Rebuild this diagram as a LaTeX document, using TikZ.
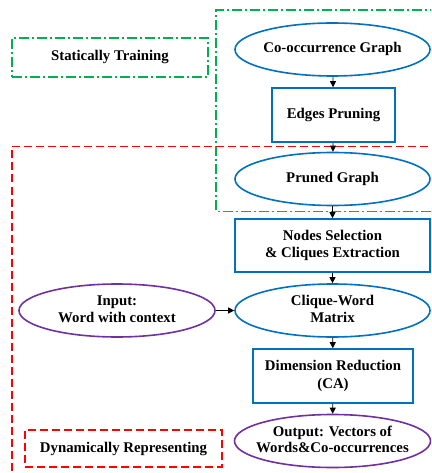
\documentclass[tikz,border=0pt]{standalone}
\usepackage{fontspec}
\setmainfont{Liberation Serif}
\usetikzlibrary{shapes.geometric,arrows.meta}
\definecolor{oblue}{RGB}{0,112,192}
\definecolor{ogreen}{RGB}{0,176,80}
\definecolor{opurple}{RGB}{112,48,160}
\definecolor{ored}{RGB}{255,0,0}
\newcommand{\zwtext}[1]{\makebox[0pt]{\begin{tabular}{@{}c@{}}#1\end{tabular}}}
\tikzset{
  txt/.style={font=\fontsize{14.8}{17.5}\selectfont\bfseries, align=center, inner sep=0pt},
  bell/.style={txt, ellipse, draw=oblue, line width=1.6pt, minimum width=195pt, minimum height=53pt},
  pell/.style={txt, ellipse, draw=opurple, line width=1.6pt, minimum width=196pt, minimum height=53pt},
  bbox/.style={txt, rectangle, draw=oblue, line width=1.6pt},
  gframe/.style={draw=ogreen, line width=1.5pt, dash pattern=on 10pt off 3pt on 2pt off 3pt},
  rframe/.style={draw=ored, line width=1.5pt, dash pattern=on 8pt off 4pt},
  arr/.style={-{Triangle[length=6pt,width=6pt]}, line width=0.8pt, black}
}
\renewcommand{\arraystretch}{0.95}
\begin{document}
\begin{tikzpicture}[x=1pt,y=-1pt]
\useasboundingbox (0,0) rectangle (431,473);
\clip (0,0) rectangle (431,473);
% frames
\draw[gframe] (440,10) -- (216,10) -- (216,211.5) -- (440,211.5);
\draw[rframe] (440,146.5) -- (12,146.5) -- (12,480);
\node[txt, gframe, minimum width=196pt, minimum height=39pt] (st) at (110,57.5) {Statically Training};
\node[txt, rframe, minimum width=197pt, minimum height=37pt] (dr) at (123.5,448.5) {Dynamically Representing};
% nodes
\node[bell] (cog) at (332.5,49.5) {\zwtext{Co-occurrence Graph}};
\node[bbox, minimum width=123pt, minimum height=54pt] (ep) at (333.5,115) {Edges Pruning};
\node[bell] (pg) at (332.5,179) {\zwtext{Pruned Graph}};
\node[bbox, minimum width=195pt, minimum height=53pt] (ns) at (332.5,245.5) {Nodes Selection\\\& Cliques Extraction};
\node[bell] (cw) at (332.5,310.5) {\zwtext{Clique-Word\\Matrix}};
\node[pell] (in) at (117,310.5) {\zwtext{Input:\\Word with context}};
\node[bbox, minimum width=160pt, minimum height=54pt] (dim) at (333,376) {Dimension Reduction\\(CA)};
\node[pell] (out) at (332.5,441) {\zwtext{Output: Vectors of\\Words\&Co-occurrences}};
% arrows
\draw[arr] (cog) -- (ep);
\draw[arr] (ep) -- (pg);
\draw[arr] (pg) -- (ns);
\draw[arr] (ns) -- (cw);
\draw[arr] (cw) -- (dim);
\draw[arr] (dim) -- (out);
\draw[arr] (in) -- (cw);
\end{tikzpicture}
\end{document}
